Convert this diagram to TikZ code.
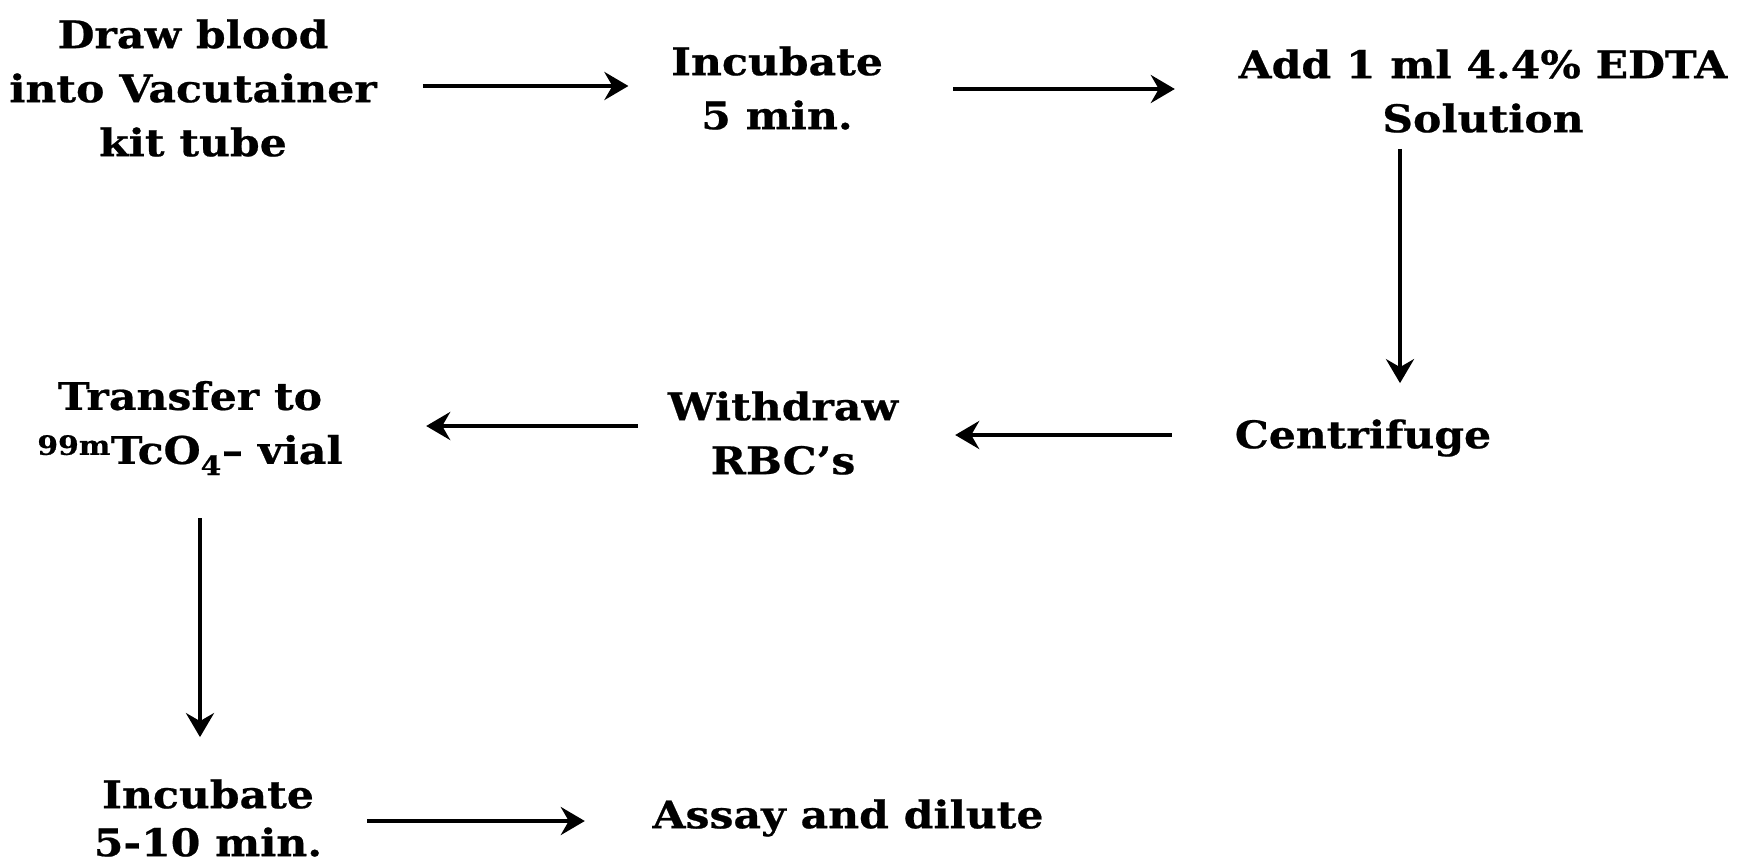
\documentclass[tikz,border=0pt]{standalone}
\usepackage{fontspec}
\setmainfont{DejaVu Serif}[FakeStretch=1.12, BoldFeatures={FakeBold=0.6}]
\usetikzlibrary{arrows.meta}

\tikzset{
  stepbox/.style={align=center, inner sep=0pt, minimum width=#1,
    font=\fontsize{38}{54}\selectfont\bfseries},
  flow/.style={line width=4.8pt,
    -{Stealth[length=24pt,width=28pt,inset=8pt]}},
}

\begin{document}
\begin{tikzpicture}[x=1pt,y=-1pt]
  \useasboundingbox (0,0) rectangle (1746,865);

  % first row
  \node[stepbox=363pt] (draw) at (193,88) {Draw blood\\into Vacutainer\\kit tube};
  \node[stepbox=205pt] (inc1) at (777,88) {Incubate\\5 min.};
  \node[stepbox=495pt] (edta) at (1483,91) {Add 1 ml 4.4\% EDTA\\Solution};

  % second row
  \node[stepbox=251pt] (cent) at (1363,438) {Centrifuge};
  \node[stepbox=234pt] (rbc) at (783,433) {Withdraw\\RBC's};
  \node[stepbox=314pt] (tc) at (190,428) {Transfer to\\\textsuperscript{99m}TcO\textsubscript{4}-- vial};

  % third row
  \node[stepbox=204pt, font=\fontsize{38}{48}\selectfont\bfseries] (inc2) at (208,818) {Incubate\\5-10 min.};
  \node[stepbox=394pt] (assay) at (848,818) {Assay and dilute};

  % connectors between the steps
  \draw[flow, shorten <=46pt, shorten >=42.5pt] (draw.east |- 0,86) -- (inc1.west |- 0,86);
  \draw[flow, shorten <=70pt, shorten >=60.5pt] (inc1.east |- 0,89) -- (edta.west |- 0,89);
  \draw[flow, shorten <=16pt, shorten >=36pt] (edta.south -| 1400,0) -- (cent.north -| 1400,0);
  \draw[flow, shorten <=63pt, shorten >=55pt] (cent.west |- 0,435) -- (rbc.east |- 0,435);
  \draw[flow, shorten <=28pt, shorten >=79pt] (rbc.west |- 0,426) -- (tc.east |- 0,426);
  \draw[flow, shorten <=43pt, shorten >=42pt] (tc.south -| 200,0) -- (inc2.north -| 200,0);
  \draw[flow, shorten <=45pt, shorten >=66pt] (inc2.east |- 0,821) -- (assay.west |- 0,821);
\end{tikzpicture}
\end{document}
